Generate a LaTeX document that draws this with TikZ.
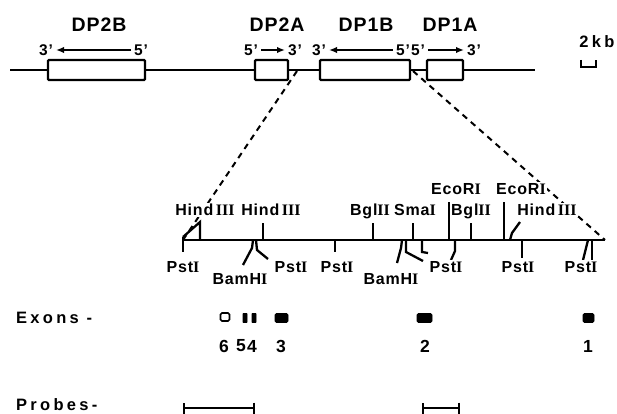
\documentclass[tikz,border=0pt]{standalone}
\usepackage{fontspec}
\setmainfont{Liberation Sans}[LetterSpace=5]
\newfontfamily\widefont{Liberation Sans}[LetterSpace=20]
\newfontfamily\romfont{Liberation Serif}
\usetikzlibrary{arrows.meta}
\newcommand{\rnum}[1]{{\romfont\bfseries #1}}

\begin{document}
\begin{tikzpicture}[
            x=1pt, y=-1pt,
            line width=2.3pt,
            gene/.style={
                draw,
                fill=white,
                minimum height=20pt,
                inner sep=0pt,
                rounded corners=1pt
            },
            genename/.style={font=\fontsize{19.5}{19.5}\selectfont\bfseries},
            prime/.style={font=\fontsize{15.5}{15.5}\selectfont\bfseries, inner sep=2pt},
            strand/.style={-{Latex[length=8pt,width=6.5pt]}, line width=1.8pt},
            zoomline/.style={dash pattern=on 6pt off 5pt, line width=2pt},
            site/.style={
                font=\fontsize{16}{16}\selectfont\bfseries,
                fill=white,
                inner sep=1pt,
                text height=11.5pt,
                text depth=0pt
            },
            exon/.style={
                draw,
                fill=black,
                line width=0.8pt,
                minimum height=9pt,
                inner sep=0pt,
                rounded corners=1.5pt
            },
            num/.style={font=\fontsize{17.5}{17.5}\selectfont\bfseries},
            rowname/.style={
                font=\widefont\bfseries\fontsize{16.5}{16.5}\selectfont,
                anchor=west,
                inner sep=0pt
            },
            probe/.style={{Bar[width=11pt]}-{Bar[width=11pt]}, line width=2pt}
        ]

            \useasboundingbox (0,0) rectangle (617,414);

            \coordinate (topL) at (10,70);
            \coordinate (topR) at (535,70);

            \node[gene, minimum width=97pt] (dp2b) at (96.5,70) {};
            \node[gene, minimum width=33pt] (dp2a) at (271.5,70) {};
            \node[gene, minimum width=90pt] (dp1b) at (365,70) {};
            \node[gene, minimum width=36pt] (dp1a) at (445,70) {};

            \draw (topL) -- (dp2b);
            \draw (dp2b) -- (dp2a);
            \draw (dp2a) -- (dp1b);
            \draw (dp1b) -- (dp1a);
            \draw (dp1a) -- (topR);

            \node[genename] (name2b) at (99,25) {DP2B};
            \node[genename] (name2a) at (277,25) {DP2A};
            \node[genename] (name1b) at (366,25) {DP1B};
            \node[genename] (name1a) at (450,25) {DP1A};

            \node[prime] (b3) at (46,50) {3'};
            \node[prime] (b5) at (141,50) {5'};
            \node[prime] (a5) at (251,50) {5'};
            \node[prime] (a3) at (295,50) {3'};
            \node[prime] (c3) at (319,50) {3'};
            \node[prime] (c5) at (403,50) {5'};
            \node[prime] (d5) at (418,50) {5'};
            \node[prime] (d3) at (474,50) {3'};

            \draw[strand] (b5) -- (b3);
            \draw[strand] (a5) -- (a3);
            \draw[strand] (c5) -- (c3);
            \draw[strand] (d5) -- (d3);

            \node[font=\widefont\bfseries\fontsize{16.5}{16.5}\selectfont] (kb) at (597,42) {2kb};
            \draw (581,60) -- (581,67) -- (596,67) -- (596,60);

            \coordinate (zoomL) at (297,71);
            \coordinate (zoomR) at (413,71);
            \coordinate (mapL) at (183,240);
            \coordinate (mapR) at (605,240);

            \draw[zoomline] (zoomL) -- (mapL);
            \draw[zoomline] (zoomR) -- (mapR);
            \draw (mapL) -- (mapR);

            \coordinate (pst1) at (183,240);
            \coordinate (hind1) at (200,240);
            \coordinate (bam1) at (253,240);
            \coordinate (pst2) at (256,240);
            \coordinate (hind2) at (263,240);
            \coordinate (pst3) at (335,240);
            \coordinate (bgl1) at (373,240);
            \coordinate (bam2) at (402,240);
            \coordinate (cut1) at (406,240);
            \coordinate (sma) at (413,240);
            \coordinate (cut2) at (422,240);
            \coordinate (eco1) at (449,240);
            \coordinate (pst4) at (455,240);
            \coordinate (bgl2) at (471,240);
            \coordinate (eco2) at (504,240);
            \coordinate (hind3) at (510,240);
            \coordinate (pst5) at (522,240);
            \coordinate (pst6) at (588,240);
            \coordinate (pst7) at (592,240);

            \draw (pst1) ++(0,-3) -- ++(0,15);
            \draw (hind1) -- ++(0,-18) -- ++(-17,15);
            \draw (bam1) -- ++(-1,8) -- ++(-9,17);
            \draw (pst2) -- ++(1,10) -- ++(11,9);
            \draw (hind2) -- ++(0,-17);
            \draw (pst3) -- ++(0,12);
            \draw (bgl1) -- ++(0,-17);
            \draw (bam2) -- ++(-1,8) -- ++(-4,15);
            \draw (cut1) -- ++(0,12) -- ++(17,9);
            \draw (sma) -- ++(0,-17);
            \draw (cut2) -- ++(0,12) -- ++(6,1);
            \draw (eco1) -- ++(0,-38);
            \draw (pst4) -- ++(0,11) -- ++(-4,9);
            \draw (bgl2) -- ++(0,-17);
            \draw (eco2) -- ++(0,-38);
            \draw (hind3) -- ++(2,-7) -- ++(8,-11);
            \draw (pst5) -- ++(0,18);
            \draw (pst6) -- ++(-5,20);
            \draw (pst7) -- ++(0,20);

            \node[site] (lhind1) at (205,210) {Hind\,\rnum{III}};
            \node[site] (lhind2) at (271,210) {Hind\,\rnum{III}};
            \node[site] (lbgl1) at (370,210) {Bgl\rnum{II}};
            \node[site] (lsma) at (415,210) {Sma\rnum{I}};
            \node[site] (lbgl2) at (471,210) {Bgl\rnum{II}};
            \node[site] (lhind3) at (547,210) {Hind\,\rnum{III}};
            \node[site] (leco1) at (456,189) {EcoR\rnum{I}};
            \node[site] (leco2) at (521,189) {EcoR\rnum{I}};

            \node[site] (lpst1) at (183,267) {Pst\rnum{I}};
            \node[site] (lpst2) at (291,267) {Pst\rnum{I}};
            \node[site] (lpst3) at (337,267) {Pst\rnum{I}};
            \node[site] (lpst4) at (446,267) {Pst\rnum{I}};
            \node[site] (lpst5) at (518,267) {Pst\rnum{I}};
            \node[site] (lpst6) at (581,267) {Pst\rnum{I}};
            \node[site] (lbam1) at (240,279) {BamH\rnum{I}};
            \node[site] (lbam2) at (391,279) {BamH\rnum{I}};

            \node[rowname] (exons) at (15,318) {Exons -};
            \node[exon, fill=white, minimum width=9pt, minimum height=8pt, line width=1.6pt] (ex6) at (225,317) {};
            \node[exon, minimum width=4pt, rounded corners=0.5pt] (ex5) at (245,318) {};
            \node[exon, minimum width=4pt, rounded corners=0.5pt] (ex4) at (254,318) {};
            \node[exon, minimum width=13pt] (ex3) at (281.5,318) {};
            \node[exon, minimum width=15pt] (ex2) at (424.5,318) {};
            \node[exon, minimum width=11pt] (ex1) at (588.5,318) {};

            \node[num] (num6) at (224,346) {6};
            \node[num] (num5) at (241,346) {5};
            \node[num] (num4) at (252,346) {4};
            \node[num] (num3) at (281,346) {3};
            \node[num] (num2) at (425,346) {2};
            \node[num] (num1) at (588,346) {1};

            \node[rowname] (probes) at (15,405) {Probes-};
            \coordinate (pr1a) at (183,408);
            \coordinate (pr1b) at (255,408);
            \coordinate (pr2a) at (422,408);
            \coordinate (pr2b) at (460,408);
            \draw[probe] (pr1a) -- (pr1b);
            \draw[probe] (pr2a) -- (pr2b);

        \end{tikzpicture}
\end{document}
